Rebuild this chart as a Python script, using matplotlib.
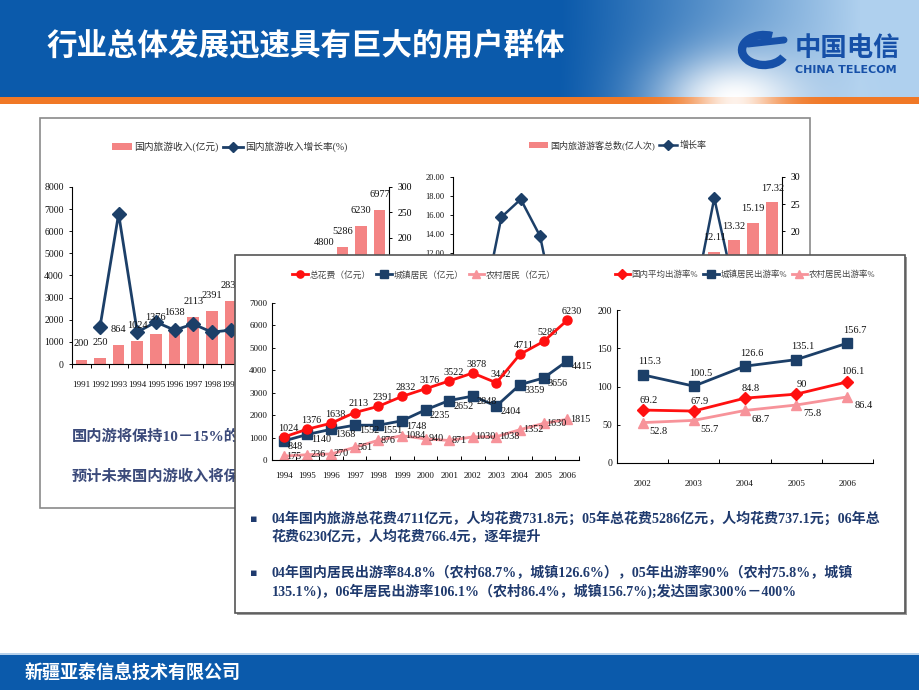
import numpy as np
import matplotlib
matplotlib.use('Agg')
import matplotlib.pyplot as plt
from matplotlib.patches import Rectangle, Arc
from matplotlib.ticker import FixedLocator, NullFormatter

# ---------------- data ----------------
title_text = "行业总体发展迅速具有巨大的用户群体"
company_text = "新疆亚泰信息技术有限公司"

rev_years = [str(y) for y in range(1991, 2008)]
rev_values = [200, 250, 864, 1024, 1376, 1638, 2113, 2391, 2832, 3176, 3522,
              3878, 3442, 4800, 5286, 6230, 6977]
rev_growth = [np.nan, 23, 247, 13, 33, 17, 29, 13, 17, 12, 11, 10, -11, 37, 12, 18, 12]

vis_values = [3.0, 3.3, 4.1, 5.24, 6.29, 6.39, 6.44, 6.95, 7.19, 7.44, 7.84,
              8.78, 8.70, 12.11, 13.32, 15.19, 17.32]
vis_growth = [np.nan, 5, 22.6, 25.9, 19.1, 2, 1.5, 1, 8, 3.5, 5.4, 12, 8, 26.1, 10, 14, 13]

spend_years = [str(y) for y in range(1994, 2007)]
total_spend = [1024, 1376, 1638, 2113, 2391, 2832, 3176, 3522, 3878, 3442, 4711, 5286, 6230]
urban_spend = [848, 1140, 1368, 1552, 1551, 1748, 2235, 2652, 2848, 2404, 3359, 3656, 4415]
rural_spend = [175, 236, 270, 561, 876, 1084, 940, 871, 1030, 1038, 1352, 1630, 1815]

rate_years = ["2002", "2003", "2004", "2005", "2006"]
rate_avg = [69.2, 67.9, 84.8, 90, 106.1]
rate_urban = [115.3, 100.5, 126.6, 135.1, 156.7]
rate_rural = [52.8, 55.7, 68.7, 75.8, 86.4]

back_notes = ["国内游将保持10－15%的", "预计未来国内游收入将保"]
bullets = [
    ["04年国内旅游总花费4711亿元，人均花费731.8元；05年总花费5286亿元，人均花费737.1元；06年总",
     "花费6230亿元，人均花费766.4元，逐年提升"],
    ["04年国内居民出游率84.8%（农村68.7%，城镇126.6%），05年出游率90%（农村75.8%，城镇",
     "135.1%)，06年居民出游率106.1%（农村86.4%，城镇156.7%);发达国家300%－400%"],
]

# ---------------- style ----------------
W, H = 920, 690
MIX = ['Liberation Serif', 'Noto Sans CJK SC']
plt.rcParams['font.family'] = MIX
plt.rcParams['axes.unicode_minus'] = False

BAR = '#f48484'
NAVY = '#1c3f68'
RED = '#ff1010'
PINK = '#f7939a'
TXT = '#1f3a6e'
PANEL = (235, 255, 905, 613)   # front panel box in pixels (x0, y0, x1, y1)

fig = plt.figure(figsize=(W / 100, H / 100), dpi=100)


def px_axes(x0, y0, x1, y1, **kw):
    return fig.add_axes([x0 / W, 1 - y1 / H, (x1 - x0) / W, (y1 - y0) / H], **kw)


# ---------------- background layer ----------------
bg = fig.add_axes([0, 0, 1, 1], zorder=0)
bg.axis('off')
hx = np.arange(W) + 0.5
hy = np.arange(97) + 0.5
X, Y = np.meshgrid(hx, hy)
blue = np.array([11, 90, 171]) / 255
sky = np.array([175, 208, 238]) / 255
t = np.clip((X - 560) / 300, 0, 1) ** 1.1
img = blue * (1 - t[..., None]) + sky * t[..., None]
glow = np.exp(-(((X - 735) / 75) ** 2 + ((Y - 100) / 45) ** 2))
img = img * (1 - glow[..., None]) + glow[..., None]
bg.imshow(img, extent=[0, W, 97, 0], aspect='auto', zorder=0)

sy = np.arange(7) + 0.5
SX, SY = np.meshgrid(hx, sy)
orange = np.array([240, 120, 38]) / 255
g2 = np.exp(-((SX - 735) / 45) ** 2)
simg = orange * (1 - 0.9 * g2[..., None]) + 0.9 * g2[..., None]
bg.imshow(simg, extent=[0, W, 104, 97], aspect='auto', zorder=0)

bg.text(47, 46, title_text, color='white', fontsize=22, fontweight='bold',
        family=['Noto Sans CJK SC'], va='center', ha='left')

# logo
bg.add_patch(Arc((764, 50), 44, 30, angle=0, theta1=20, theta2=300,
                 lw=6, color='#1650a8'))
bg.plot([748, 784], [44, 40], color='#1650a8', lw=5, solid_capstyle='round')
bg.text(795, 48, "中国电信", color='#1650a8', fontsize=19, fontweight='bold',
        family=['Noto Sans CJK SC'], va='center', ha='left')
bg.text(795, 70, "CHINA TELECOM", color='#1650a8', fontsize=8, fontweight='bold',
        family=['DejaVu Sans'], va='center', ha='left')

# back panel
bg.add_patch(Rectangle((40, 118), 770, 390, fc='white', ec='#8a8a8a', lw=1.2, zorder=1))
for i, s in enumerate(back_notes):
    bg.text(72, 437 + 40 * i, s, color='#3b4a7a', fontsize=11, fontweight='bold',
            va='center', ha='left', zorder=2)

# footer
bg.add_patch(Rectangle((0, 655), W, 35, fc='#0b5aab', ec='none', zorder=1))
bg.plot([0, W], [654, 654], color='#a9c8e8', lw=1.2, zorder=1)
bg.text(25, 672, company_text, color='white', fontsize=13, fontweight='bold',
        family=['Noto Sans CJK SC'], va='center', ha='left', zorder=2)
bg.set_xlim(0, W)
bg.set_ylim(H, 0)


def style_axes(ax, labelsize=7):
    ax.set_facecolor('none')
    ax.tick_params(labelsize=labelsize, length=2.5, width=0.7, colors='#111')
    for s in ['top', 'right']:
        ax.spines[s].set_visible(False)
    for s in ['left', 'bottom']:
        ax.spines[s].set_linewidth(0.8)


def cat_ticks(ax, n, direction='out'):
    ax.set_xlim(-0.5, n - 0.5)
    ax.xaxis.set_minor_locator(FixedLocator(np.arange(-0.5, n, 1.0)))
    ax.xaxis.set_minor_formatter(NullFormatter())
    ax.tick_params(axis='x', which='major', length=0)
    ax.tick_params(axis='x', which='minor', length=3, direction=direction, width=0.7)


back_texts = []

# ---------------- back left chart ----------------
ax1 = px_axes(72, 187, 389, 364, zorder=1)
style_axes(ax1, 7)
x1 = np.arange(len(rev_years))
bars1 = ax1.bar(x1, rev_values, width=0.62, color=BAR, zorder=2)
ax1.set_ylim(0, 8000)
ax1.set_yticks(range(0, 8001, 1000))
ax1.set_xticks(x1)
ax1.set_xticklabels(rev_years, fontsize=6.6)
ax1.tick_params(axis='x', pad=12)
cat_ticks(ax1, len(rev_years))
ax1b = ax1.twinx()
ax1b.set_zorder(1.1)
ax1b.set_ylim(-50, 300)
ax1b.set_yticks(range(0, 301, 50))
ax1b.tick_params(labelsize=7, length=2.5, width=0.7)
for s in ['top', 'left', 'bottom']:
    ax1b.spines[s].set_visible(False)
ln1, = ax1b.plot(x1, rev_growth, color=NAVY, lw=2, marker='D', ms=7, zorder=3)
for xi, v in zip(x1, rev_values):
    back_texts.append(ax1b.annotate(f"{v}", (xi, v), xycoords=ax1.transData,
                                    xytext=(0, 8), textcoords='offset points',
                                    ha='center', va='bottom', fontsize=7.5,
                                    color='#111', zorder=5))
ax1.legend([bars1, ln1], ["国内旅游收入(亿元)", "国内旅游收入增长率(%)"],
           loc='center', bbox_to_anchor=(230 / W, 1 - 147 / H),
           bbox_transform=fig.transFigure, ncol=2, frameon=False, fontsize=7,
           handlelength=2.0, handletextpad=0.25, columnspacing=0.5,
           labelcolor='#333', markerscale=0.8)

# ---------------- back right chart ----------------
ax2 = px_axes(453, 177, 782, 367, zorder=1)
style_axes(ax2, 6)
x2 = np.arange(len(vis_values))
bars2 = ax2.bar(x2, vis_values, width=0.62, color=BAR, zorder=2)
ax2.set_ylim(0, 20)
ax2.set_yticks(np.arange(0, 20.1, 2))
ax2.set_yticklabels([f"{v:.2f}" for v in np.arange(0, 20.1, 2)])
ax2.set_xticks([])
cat_ticks(ax2, len(vis_values))
ax2b = ax2.twinx()
ax2b.set_zorder(1.1)
ax2b.set_ylim(-5, 30)
ax2b.set_yticks(range(0, 31, 5))
ax2b.tick_params(labelsize=7, length=2.5, width=0.7)
for s in ['top', 'left', 'bottom']:
    ax2b.spines[s].set_visible(False)
ln2, = ax2b.plot(x2, vis_growth, color=NAVY, lw=1.8, marker='D', ms=6, zorder=3)
for xi, v in zip(x2, vis_values):
    back_texts.append(ax2b.annotate(f"{v:.2f}", (xi, v), xycoords=ax2.transData,
                                    xytext=(0, 7), textcoords='offset points',
                                    ha='center', va='bottom', fontsize=7.5,
                                    color='#111', zorder=5))
ax2.legend([bars2, ln2], ["国内旅游游客总数(亿人次)", "增长率"],
           loc='center', bbox_to_anchor=(618 / W, 1 - 145 / H),
           bbox_transform=fig.transFigure, ncol=2, frameon=False, fontsize=6.5,
           handlelength=2.0, handletextpad=0.25, columnspacing=0.5,
           labelcolor='#333', markerscale=0.8)

# ---------------- front panel layer ----------------
fg = fig.add_axes([0, 0, 1, 1], zorder=2)
fg.axis('off')
px0, py0, px1, py1 = PANEL
fg.add_patch(Rectangle((px0 + 2, py0 + 2), px1 - px0, py1 - py0, fc='#9a9a9a', ec='none'))
fg.add_patch(Rectangle((px0, py0), px1 - px0, py1 - py0, fc='white', ec='#555555', lw=1.2))
for k, lines in enumerate(bullets):
    y0 = 519 + 54 * k
    fg.text(254, y0, "▪", color=TXT, fontsize=8, va='center', ha='center',
            family=['DejaVu Sans'])
    for j, s in enumerate(lines):
        fg.text(272, y0 + 18 * j, s, color=TXT, fontsize=10.1, fontweight='bold',
                va='center', ha='left')
fg.set_xlim(0, W)
fg.set_ylim(H, 0)

# ---------------- front left chart ----------------
ax3 = px_axes(272, 303, 579, 460, zorder=3)
style_axes(ax3, 6.5)
x3 = np.arange(len(spend_years))
l_tot, = ax3.plot(x3, total_spend, color=RED, lw=2, marker='o', ms=6.5, zorder=4)
l_urb, = ax3.plot(x3, urban_spend, color=NAVY, lw=2, marker='s', ms=6.5, zorder=3)
l_rur, = ax3.plot(x3, rural_spend, color=PINK, lw=2, marker='^', ms=7, zorder=2)
ax3.set_ylim(0, 7000)
ax3.set_yticks(range(0, 7001, 1000))
ax3.tick_params(axis='y', direction='in')
ax3.set_xticks(x3)
ax3.set_xticklabels(spend_years, fontsize=6.5)
ax3.tick_params(axis='x', pad=9)
cat_ticks(ax3, len(spend_years), direction='in')
for xi, v in zip(x3, total_spend):
    ax3.annotate(f"{v}", (xi, v), xytext=(3, 3), textcoords='offset points',
                 ha='center', va='bottom', fontsize=7.3, color='#111')
for xi, v in zip(x3, urban_spend):
    ax3.annotate(f"{v}", (xi, v), xytext=(3, -4), textcoords='offset points',
                 ha='left', va='center', fontsize=7.3, color='#111')
for xi, v in zip(x3, rural_spend):
    ax3.annotate(f"{v}", (xi, v), xytext=(2, 0), textcoords='offset points',
                 ha='left', va='center', fontsize=7.3, color='#111')
ax3.legend([l_tot, l_urb, l_rur], ["总花费（亿元）", "城镇居民（亿元）", "农村居民（亿元）"],
           loc='center', bbox_to_anchor=(424 / W, 1 - 275 / H),
           bbox_transform=fig.transFigure, ncol=3, frameon=False, fontsize=6.3,
           handlelength=1.8, handletextpad=0.2, columnspacing=0.6,
           labelcolor='#444', markerscale=0.8)

# ---------------- front right chart ----------------
ax4 = px_axes(617, 310, 873, 463, zorder=3)
style_axes(ax4, 7)
x4 = np.arange(len(rate_years))
r_avg, = ax4.plot(x4, rate_avg, color=RED, lw=2, marker='D', ms=6.5, zorder=4)
r_urb, = ax4.plot(x4, rate_urban, color=NAVY, lw=2, marker='s', ms=7, zorder=3)
r_rur, = ax4.plot(x4, rate_rural, color=PINK, lw=2, marker='^', ms=7.5, zorder=2)
ax4.set_ylim(0, 200)
ax4.set_yticks(range(0, 201, 50))
ax4.tick_params(axis='y', direction='in')
ax4.set_xticks(x4)
ax4.set_xticklabels(rate_years, fontsize=6.5)
ax4.tick_params(axis='x', pad=12)
cat_ticks(ax4, len(rate_years), direction='in')
for xi, v in zip(x4, rate_avg):
    ax4.annotate(f"{v:g}", (xi, v), xytext=(4, 4), textcoords='offset points',
                 ha='center', va='bottom', fontsize=7.5, color='#111')
for xi, v in zip(x4, rate_urban):
    ax4.annotate(f"{v:g}", (xi, v), xytext=(5, 6), textcoords='offset points',
                 ha='center', va='bottom', fontsize=7.5, color='#111')
for xi, v in zip(x4, rate_rural):
    ax4.annotate(f"{v:g}", (xi, v), xytext=(5, -3), textcoords='offset points',
                 ha='left', va='top', fontsize=7.5, color='#111')
ax4.legend([r_avg, r_urb, r_rur], ["国内平均出游率%", "城镇居民出游率%", "农村居民出游率%"],
           loc='center', bbox_to_anchor=(745 / W, 1 - 275 / H),
           bbox_transform=fig.transFigure, ncol=3, frameon=False, fontsize=6.1,
           handlelength=1.8, handletextpad=0.2, columnspacing=0.6,
           labelcolor='#444', markerscale=0.8)

# hide back-layer texts that lie completely under the front panel
fig.canvas.draw()
renderer = fig.canvas.get_renderer()
cands = list(back_texts)
for a in (ax1, ax1b, ax2, ax2b):
    cands += a.get_xticklabels() + a.get_yticklabels()
for txt in cands:
    bb = txt.get_window_extent(renderer)
    top_px = H - bb.y1
    if bb.x0 >= px0 - 1 and top_px >= py0 - 1:
        txt.set_visible(False)

fig.savefig('out.png', dpi=100)
